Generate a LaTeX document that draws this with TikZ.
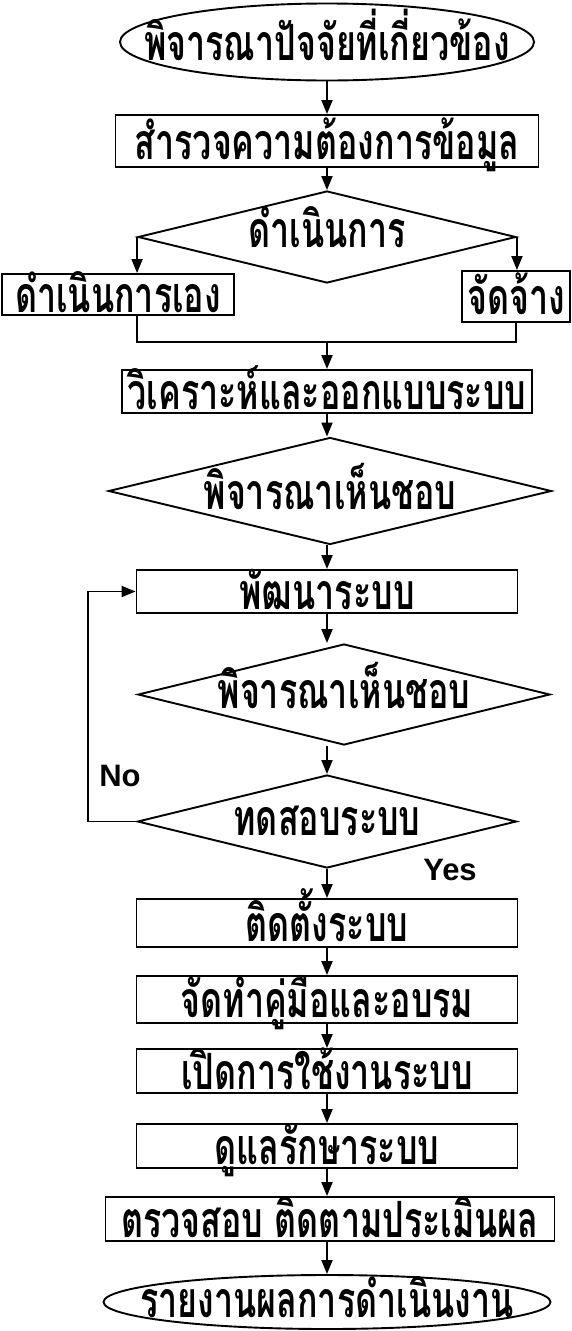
\documentclass[tikz,border=0pt]{standalone}
\usepackage{fontspec}
\setmainfont{Liberation Sans}
\newfontfamily\thaifont[Script=Thai, FakeStretch=0.68]{Loma}
\usetikzlibrary{shapes.geometric,arrows.meta}

\begin{document}
\begin{tikzpicture}[x=1pt, y=-1pt, line width=1.9pt,
    font=\thaifont\bfseries\fontsize{50}{54}\selectfont,
    every label/.style={text height=36pt, text depth=0pt},
    box/.style={draw, rectangle, inner sep=0pt, text height=36pt, text depth=0pt,
        minimum width=381pt, minimum height=#1},
    box/.default=44pt,
    term/.style={draw, ellipse, inner sep=0pt},
    ask/.style={draw, diamond, inner sep=0pt},
    arr/.style={-{Triangle[length=14pt, width=11pt]}},
    tag/.style={font=\rmfamily\bfseries\fontsize{31}{36}\selectfont}]
    \useasboundingbox (0,0) rectangle (571,1331);
    \node[term, minimum width=414pt, minimum height=77pt, label=center:{พิจารณาปัจจัยที่เกี่ยวข้อง}] (start) at (327,42) {};
    \node[box=52pt, minimum width=423pt] (survey) at (327,141) {สำรวจความต้องการข้อมูล};
    \node[ask, minimum width=378pt, minimum height=92pt, label={[yshift=8pt]center:{ดำเนินการ}}] (how) at (327,237) {};
    \node[box=41pt, minimum width=232pt] (self) at (118,294.5) {ดำเนินการเอง};
    \node[box=51pt, minimum width=108pt] (hire) at (516,296.5) {จัดจ้าง};
    \coordinate (mg) at (327,342);
    \node[box=43pt, minimum width=410pt] (design) at (327,391.5) {วิเคราะห์และออกแบบระบบ};
    \node[ask, minimum width=443pt, minimum height=107pt, label=center:{พิจารณาเห็นชอบ}] (ok1) at (330,491) {};
    \node[box=43pt] (dev) at (327,591.5) {พัฒนาระบบ};
    \node[ask, minimum width=412pt, minimum height=101pt, label={[yshift=4pt]center:{พิจารณาเห็นชอบ}}] (ok2) at (344,694.5) {};
    \node[ask, minimum width=379pt, minimum height=93pt, label={[yshift=4pt]center:{ทดสอบระบบ}}] (test) at (327,821.5) {};
    \coordinate (lp) at (88,591);
    \node[box=48pt] (inst) at (327,923) {ติดตั้งระบบ};
    \node[box=47pt] (manual) at (327,999.5) {จัดทำคู่มือและอบรม};
    \node[box] (open) at (327,1071) {เปิดการใช้งานระบบ};
    \node[box] (care) at (327,1146) {ดูแลรักษาระบบ};
    \node[box, minimum width=449pt] (eval) at (330,1219) {ตรวจสอบ ติดตามประเมินผล};
    \node[term, minimum width=447pt, minimum height=54pt, label={[yshift=3pt]center:{รายงานผลการดำเนินงาน}}] (report) at (327,1302) {};
    \node[tag] (no) at (120,776) {No};
    \node[tag] (yes) at (450,870) {Yes};

    \draw[arr] (start) -- (survey);
    \draw[arr] (survey) -- (how);
    \draw[arr] (how.west) -- (how.west |- self.north);
    \draw[arr] (how.east) -- (how.east |- hire.north);
    \draw (self.south -| how.west) |- (mg);
    \draw (hire.south) |- (mg);
    \draw[arr] (mg) -- (design);
    \draw[arr] (design.south) -- (design.south |- ok1.north);
    \draw[arr] (ok1.south -| dev.north) -- (dev.north);
    \draw[arr] (dev.south) -- (dev.south |- ok2.north);
    \draw[arr] (ok2.south -| test.north) -- (test.north);
    \draw[arr] (test.west) -- (test.west -| lp) |- (dev.west);
    \draw[arr] (test) -- (inst);
    \draw[arr] (inst) -- (manual);
    \draw[arr] (manual) -- (open);
    \draw[arr] (open) -- (care);
    \draw[arr] (care.south) -- (care.south |- eval.north);
    \draw[arr] (eval.south -| report.north) -- (report.north);
\end{tikzpicture}
\end{document}
